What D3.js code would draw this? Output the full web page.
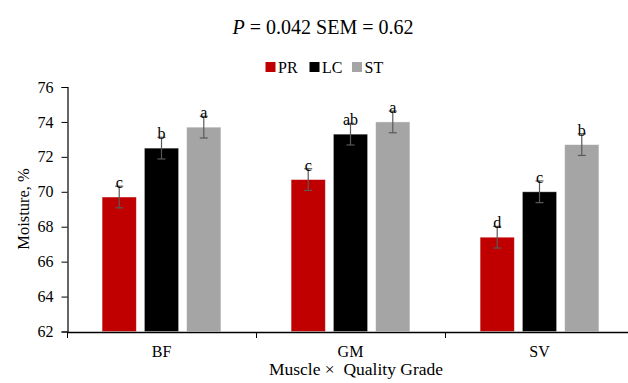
<!DOCTYPE html>
<html><head><meta charset="utf-8">
<script src="https://cdn.jsdelivr.net/npm/d3@7/dist/d3.min.js"></script>
</head><body style="margin:0">
<svg id="c" width="628" height="383" style="font-family: 'Liberation Serif'"></svg>
<script>
const categories = ["BF", "GM", "SV"];
const series = ["PR", "LC", "ST"];
const PR = [69.7, 70.7, 67.4];
const LC = [72.5, 73.3, 70.0];
const ST = [73.7, 74.0, 72.7];
const letters = {PR: ["c", "c", "d"], LC: ["b", "ab", "c"], ST: ["a", "a", "b"]};
const SEM = 0.62;
const yTicks = [62, 64, 66, 68, 70, 72, 74, 76];
const colors = {PR: "#C00000", LC: "#000000", ST: "#A5A5A5"};
const values = {PR, LC, ST};

const svg = d3.select("#c");
function txt(parent, size) {
  return parent.append("text").style("font-family", "Liberation Serif").style("font-size", size + "px").attr("fill", "#000");
}
const x0 = d3.scaleBand().domain(categories).range([67, 634]).padding(0);
const x1 = d3.scaleBand().domain(series).range([0, x0.bandwidth()]).paddingInner(0.19).paddingOuter(0.83);
const y = d3.scaleLinear().domain([62, 76]).range([331.5, 87]);

// Title
const t = txt(svg, 20).attr("x", 323).attr("y", 34).attr("text-anchor", "middle");
t.append("tspan").style("font-style", "italic").text("P");
t.append("tspan").text(" = 0.042 SEM = 0.62");

// Legend
const legX = [265.5, 309.5, 352];
series.forEach((s, i) => {
  svg.append("rect").attr("x", legX[i]).attr("y", 62).attr("width", 10).attr("height", 10).attr("fill", colors[s]);
  txt(svg, 16).attr("x", legX[i] + 12.5).attr("y", 73).text(s);
});

// Bars
categories.forEach((c, ci) => {
  series.forEach(s => {
    const v = values[s][ci];
    const bx = x0(c) + x1(s);
    svg.append("rect").attr("x", bx).attr("y", y(v)).attr("width", x1.bandwidth()).attr("height", y(62) - y(v))
      .attr("fill", colors[s]).attr("stroke", "#fff").attr("stroke-opacity", 0.5).attr("stroke-width", 0.8);
    const cx = bx + x1.bandwidth() / 2;
    svg.append("line").attr("x1", cx).attr("x2", cx).attr("y1", y(v + SEM)).attr("y2", y(v - SEM)).attr("stroke", "#595959").attr("stroke-width", 1.2);
    [v + SEM, v - SEM].forEach(e => {
      svg.append("line").attr("x1", cx - 4).attr("x2", cx + 4).attr("y1", y(e)).attr("y2", y(e)).attr("stroke", "#595959").attr("stroke-width", 1.2);
    });
    txt(svg, 16).attr("x", cx).attr("y", y(v + SEM) + 2).attr("text-anchor", "middle").text(letters[s][ci]);
  });
});

// Y axis
const ya = svg.append("g").attr("transform", "translate(67.5,0)")
  .call(d3.axisLeft(y).tickValues(yTicks).tickSize(6).tickPadding(8).tickFormat(d3.format("d")));
ya.attr("font-family", null).attr("font-size", null);
ya.select(".domain").attr("stroke", "#000").attr("stroke-width", 1.2);
ya.selectAll(".tick line").attr("stroke", "#000");
ya.selectAll("text").style("font-family", "Liberation Serif").style("font-size", "16px");

// X axis
const xa = svg.append("g").attr("transform", "translate(0,332)")
  .call(d3.axisBottom(x0).tickSize(0).tickPadding(14));
xa.attr("font-family", null).attr("font-size", null);
xa.select(".domain").attr("stroke", "#000").attr("stroke-width", 1.4);
xa.selectAll("text").style("font-family", "Liberation Serif").style("font-size", "16px");
[67, 256, 445].forEach(v => svg.append("line").attr("x1", v + 0.5).attr("x2", v + 0.5).attr("y1", 332).attr("y2", 338).attr("stroke", "#000"));

// Axis titles
txt(svg, 17.5).attr("x", 356).attr("y", 375).attr("text-anchor", "middle").style("white-space", "pre").text("Muscle \u00D7  Quality Grade");
txt(svg, 16.5).attr("transform", "translate(29,209) rotate(-90)").attr("text-anchor", "middle").text("Moisture, %");
</script>
</body></html>
